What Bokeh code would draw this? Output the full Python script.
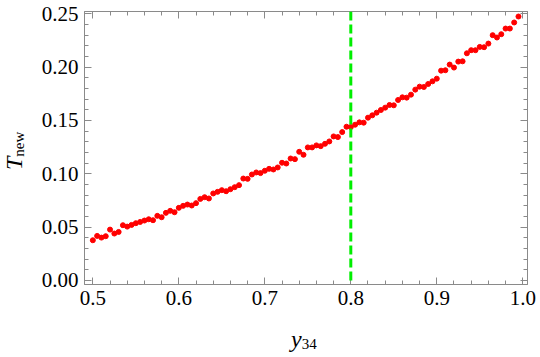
import numpy as np
from bokeh.plotting import figure
from bokeh.layouts import row
from bokeh.models import (Span, Div, LinearAxis, SingleIntervalTicker, Range1d,
                          NumeralTickFormatter, CustomLabelingPolicy)
from bokeh.embed import file_html
from bokeh.resources import INLINE

y34 = [0.500, 0.505, 0.510, 0.515, 0.520, 0.525, 0.530, 0.535, 0.540, 0.545,
       0.550, 0.555, 0.560, 0.565, 0.570, 0.575, 0.580, 0.585, 0.590, 0.595,
       0.600, 0.605, 0.610, 0.615, 0.620, 0.625, 0.630, 0.635, 0.640, 0.645,
       0.650, 0.655, 0.660, 0.665, 0.670, 0.675, 0.680, 0.685, 0.690, 0.695,
       0.700, 0.705, 0.710, 0.715, 0.720, 0.725, 0.730, 0.735, 0.740, 0.745,
       0.750, 0.755, 0.760, 0.765, 0.770, 0.775, 0.780, 0.785, 0.790, 0.795,
       0.800, 0.805, 0.810, 0.815, 0.820, 0.825, 0.830, 0.835, 0.840, 0.845,
       0.850, 0.855, 0.860, 0.865, 0.870, 0.875, 0.880, 0.885, 0.890, 0.895,
       0.900, 0.905, 0.910, 0.915, 0.920, 0.925, 0.930, 0.935, 0.940, 0.945,
       0.950, 0.955, 0.960, 0.965, 0.970, 0.975, 0.980, 0.985, 0.990, 0.995]

t_new = [0.0376, 0.0417, 0.0401, 0.0414, 0.0476, 0.0439, 0.0454, 0.0517, 0.0504, 0.0520,
         0.0536, 0.0548, 0.0561, 0.0573, 0.0564, 0.0605, 0.0592, 0.0633, 0.0652, 0.0639,
         0.0680, 0.0699, 0.0711, 0.0702, 0.0724, 0.0764, 0.0780, 0.0768, 0.0815, 0.0830,
         0.0846, 0.0836, 0.0855, 0.0874, 0.0893, 0.0955, 0.0952, 0.0993, 0.1012, 0.1006,
         0.1028, 0.1046, 0.1040, 0.1059, 0.1103, 0.1096, 0.1143, 0.1137, 0.1206, 0.1178,
         0.1247, 0.1247, 0.1266, 0.1259, 0.1281, 0.1303, 0.1350, 0.1344, 0.1391, 0.1441,
         0.1438, 0.1460, 0.1482, 0.1479, 0.1526, 0.1548, 0.1573, 0.1598, 0.1620, 0.1645,
         0.1642, 0.1692, 0.1717, 0.1714, 0.1742, 0.1789, 0.1817, 0.1814, 0.1842, 0.1867,
         0.1892, 0.1967, 0.1971, 0.2024, 0.1996, 0.2052, 0.2055, 0.2130, 0.2159, 0.2159,
         0.2190, 0.2187, 0.2221, 0.2300, 0.2278, 0.2309, 0.2362, 0.2362, 0.2419, 0.2475]

x_cut = 0.8

x_label_main, x_label_sub = "y", "34"
y_label_main, y_label_sub = "T", "new"

FONT = "Liberation Serif"
FRAME = "#8a8a8a"

YLAB_W = 26
P_W, P_H = 540 - YLAB_W, 357

p = figure(width=P_W, height=P_H, output_backend="svg", toolbar_location=None,
           x_range=Range1d(0.4903, 1.0055), y_range=Range1d(-0.0039, 0.2522),
           x_axis_location=None, y_axis_location=None,
           min_border_left=58, min_border_right=13, min_border_top=11, min_border_bottom=73)
p.grid.visible = False
p.outline_line_color = FRAME
p.outline_line_width = 1
p.background_fill_color = "white"
p.border_fill_alpha = 0

xt = SingleIntervalTicker(interval=0.1, num_minor_ticks=5)
yt = SingleIntervalTicker(interval=0.05, num_minor_ticks=5)

no_labels = CustomLabelingPolicy(code="""
for (const i of indices) { indices.unset(i) }
return indices
""")

def style(ax, labels=True):
    ax.axis_line_color = FRAME
    ax.major_tick_line_color = FRAME
    ax.minor_tick_line_color = FRAME
    ax.major_tick_in = 7
    ax.major_tick_out = 0
    ax.minor_tick_in = 4
    ax.minor_tick_out = 0
    if labels:
        ax.major_label_text_font = FONT
        ax.major_label_text_font_size = "21px"
        ax.major_label_text_color = "black"
    else:
        ax.major_label_policy = no_labels
        ax.major_label_text_font_size = "0px"
        ax.major_label_standoff = 0

bx = LinearAxis(ticker=xt, formatter=NumeralTickFormatter(format="0.0"))
style(bx)
bx.major_label_standoff = 6
p.add_layout(bx, "below")
ly = LinearAxis(ticker=yt, formatter=NumeralTickFormatter(format="0.00"))
style(ly)
ly.major_label_standoff = 6
p.add_layout(ly, "left")
tx = LinearAxis(ticker=xt)
style(tx, labels=False)
p.add_layout(tx, "above")
ry = LinearAxis(ticker=yt)
style(ry, labels=False)
p.add_layout(ry, "right")

p.scatter(y34, t_new, size=5, color="#ff0000", line_color="#ff0000")

p.add_layout(Span(location=x_cut, dimension="height", line_color="#00ee00",
                  line_width=3, line_dash="9 4"))

txt = (f"font-family:'{FONT}'; font-size:24px; line-height:24px; color:black; "
       "white-space:nowrap; z-index:10; position:absolute;")
sub = "font-size:15px; position:relative; top:2px;"

lab = Div(width=YLAB_W, height=300, margin=(0, 0, 0, 0), text=(
    f'<div style="position:relative; width:{YLAB_W}px; height:300px;">'
    f'<div style="{txt} left:2px; top:170px; transform-origin:0 0; '
    f'transform:rotate(-90deg);"><i>{y_label_main}</i>'
    f'<span style="{sub}">{y_label_sub}</span></div>'
    f'<div style="{txt} left:291px; top:327px;"><i>{x_label_main}</i>'
    f'<span style="{sub}">{x_label_sub}</span></div>'
    f'</div>'))

layout = row(lab, p, spacing=0)

open("out.html", "w").write(file_html(layout, INLINE))
